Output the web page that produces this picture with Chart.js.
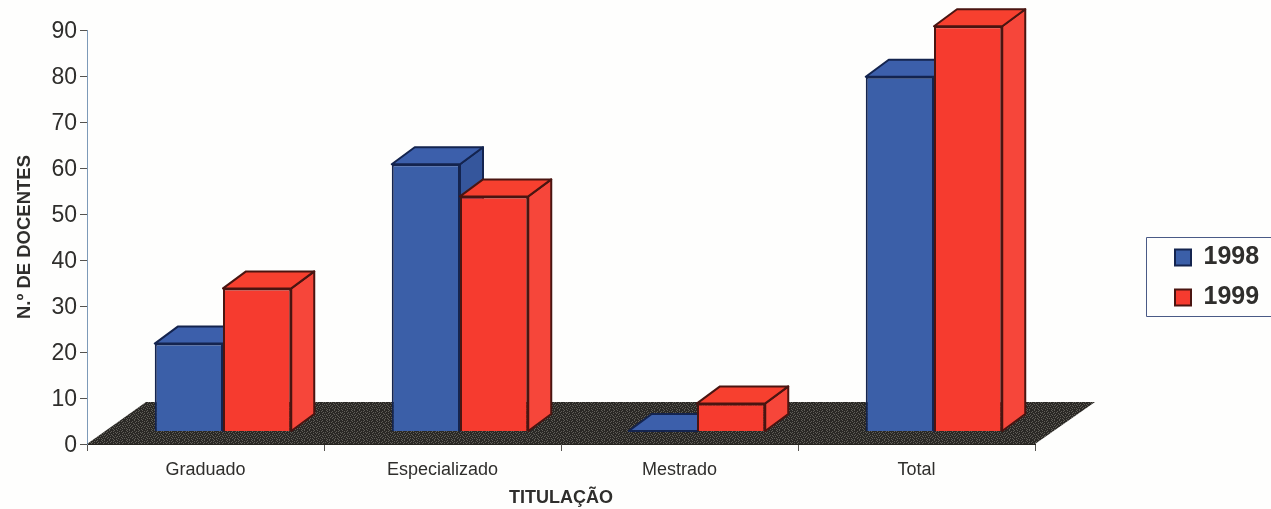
<!DOCTYPE html>
<html lang="pt">
<head>
<meta charset="utf-8">
<title>Docentes por titulação</title>
<script src="https://cdn.jsdelivr.net/npm/chart.js@4"></script>
<style>html,body{margin:0;padding:0;background:#fefefd;overflow:hidden}canvas{display:block}</style>
</head>
<body>
<canvas id="c" width="1271" height="509"></canvas>
<script>
const categories = ['Graduado', 'Especializado', 'Mestrado', 'Total'];
const values1998 = [19, 58, 0, 77];
const values1999 = [31, 51, 6, 88];
const seriesNames = ['1998', '1999'];
const xTitle = 'TITULAÇÃO';
const yTitle = 'N.º DE DOCENTES';

const FONT = '"Liberation Sans", Arial, sans-serif';
const INK = '#2f2e2c';
const LEGEND_FONT = 25;
const LEGEND_PAD = 15;
const LEGEND_BOX = 16;

// Oblique depth of the pseudo-3D view, in pixels
const DEPTH_X = 23, DEPTH_Y = 17;
const FLOOR_X = 60, FLOOR_Y = 42;
const BAR_SHIFT_X = 17.5, BAR_SHIFT_Y = 13;

const faces = [
  { top: '#3c5fab', side: '#35569c', edge: '#14244f' },
  { top: '#f7402f', side: '#f6463a', edge: '#4a1511' }
];

function floorPattern(ctx) {
  const rows = [
    '0100100001000010010000100',
    '0010000100010100000101000',
    '1000101000100001010000010',
    '0001000010000100100100100',
    '0100010001010000001000001',
    '0010100100001001000010100',
    '1000001000100100010100010',
    '0001010010000010100001000',
    '0100000100101000001000101',
    '0010100001000100100010000'
  ];
  const p = document.createElement('canvas');
  p.width = rows[0].length; p.height = rows.length;
  const g = p.getContext('2d');
  g.fillStyle = '#2a2825';
  g.fillRect(0, 0, p.width, p.height);
  g.fillStyle = '#5f5d57';
  rows.forEach((r, y) => [...r].forEach((b, x) => { if (b === '1') g.fillRect(x, y, 1, 1); }));
  return ctx.createPattern(p, 'repeat');
}

function poly(ctx, pts, fill, stroke) {
  ctx.beginPath();
  pts.forEach((p, i) => i ? ctx.lineTo(p[0], p[1]) : ctx.moveTo(p[0], p[1]));
  ctx.closePath();
  ctx.fillStyle = fill;
  ctx.fill();
  ctx.lineWidth = 2;
  ctx.lineJoin = 'round';
  ctx.strokeStyle = stroke;
  ctx.stroke();
}

const view3d = {
  id: 'view3d',
  beforeDraw(chart) {
    const c = chart.ctx;
    c.save();
    c.fillStyle = '#fefefd';
    c.fillRect(0, 0, chart.width, chart.height);
    c.restore();
  },
  afterLayout(chart) {
    // place the legend in its framed box at the right of the picture
    const l = chart.legend, w = l.right - l.left, h = l.bottom - l.top;
    l.left = 1160; l.right = 1160 + w;
    l.top = 230; l.bottom = 230 + h;
  },
  beforeDatasetsDraw(chart) {
    const c = chart.ctx, a = chart.chartArea;
    c.save();
    c.beginPath();
    c.moveTo(a.left, a.bottom);
    c.lineTo(a.right, a.bottom);
    c.lineTo(a.right + FLOOR_X, a.bottom - FLOOR_Y);
    c.lineTo(a.left + FLOOR_X - 1, a.bottom - FLOOR_Y);
    c.closePath();
    c.fillStyle = floorPattern(c);
    c.fill();
    c.restore();
  },
  // the library paints the last dataset first; the 1999 bars must stand in front
  beforeDatasetDraw() {
    return false;
  },
  afterDatasetsDraw(chart) {
    const c = chart.ctx;
    c.save();
    c.translate(BAR_SHIFT_X, 0);
    [0, 1].forEach(index => {
      const f = faces[index], meta = chart.getDatasetMeta(index);
      meta.data.forEach(bar => {
        const p = bar.getProps(['x', 'y', 'base', 'width'], true);
        const l = p.x - p.width / 2, r = p.x + p.width / 2;
        poly(c, [[r, p.y], [r + DEPTH_X, p.y - DEPTH_Y], [r + DEPTH_X, p.base - DEPTH_Y], [r, p.base]], f.side, f.edge);
        poly(c, [[l, p.y], [l + DEPTH_X, p.y - DEPTH_Y], [r + DEPTH_X, p.y - DEPTH_Y], [r, p.y]], f.top, f.edge);
        bar.draw(c);
      });
    });
    c.restore();
  },
  afterDraw(chart) {
    const c = chart.ctx;
    c.save();
    c.strokeStyle = '#4a5a86';
    c.lineWidth = 1;
    c.beginPath();
    c.moveTo(1272, 237.5);
    c.lineTo(1146.5, 237.5);
    c.lineTo(1146.5, 316.5);
    c.lineTo(1272, 316.5);
    c.stroke();
    c.restore();
  }
};

// width of the legend, so that the plot's right edge stays fixed
const measure = document.createElement('canvas').getContext('2d');
measure.font = 'bold ' + LEGEND_FONT + 'px ' + FONT;
const legendWidth = 2 * LEGEND_PAD + LEGEND_BOX + LEGEND_FONT / 2 + measure.measureText(seriesNames[0]).width;

new Chart(document.getElementById('c'), {
  type: 'bar',
  data: {
    labels: categories,
    datasets: [
      { label: seriesNames[0], data: values1998, yAxisID: 'yBars', clip: false,
        backgroundColor: '#3b5fa8', borderColor: faces[0].edge, borderWidth: 2 },
      { label: seriesNames[1], data: values1999, yAxisID: 'yBars', clip: false,
        backgroundColor: '#f63b2f', borderColor: faces[1].edge, borderWidth: 2 }
    ]
  },
  options: {
    responsive: false,
    animation: false,
    barPercentage: 1,
    categoryPercentage: 0.576,
    layout: { padding: { top: 30, left: 0, bottom: 0, right: 241 - legendWidth } },
    plugins: {
      tooltip: { enabled: false },
      legend: {
        position: 'right',
        align: 'start',
        labels: {
          boxWidth: LEGEND_BOX,
          boxHeight: LEGEND_BOX,
          padding: LEGEND_PAD,
          color: INK,
          font: { family: FONT, size: LEGEND_FONT, weight: 'bold' }
        }
      }
    },
    scales: {
      x: {
        afterFit(s) { s.height = 65; },
        border: { color: '#26241f', width: 1 },
        grid: { drawOnChartArea: false, color: '#55534f', tickLength: 7 },
        ticks: { color: INK, padding: 8, maxRotation: 0, font: { family: FONT, size: 18 } },
        title: { display: true, text: xTitle, color: INK, padding: { top: 0, bottom: 0 },
                 font: { family: FONT, size: 18, weight: 'bold' } }
      },
      y: {
        min: 0, max: 90,
        afterFit(s) { s.width = 87; },
        border: { color: '#7d9ab8', width: 1 },
        grid: { drawOnChartArea: false, color: '#55534f', tickLength: 7 },
        ticks: { stepSize: 10, color: INK, padding: 3, labelOffset: 2, font: { family: FONT, size: 23 } },
        title: { display: true, text: yTitle, color: INK, padding: { top: 14, bottom: 0 },
                 font: { family: FONT, size: 18.5, weight: 'bold' } }
      },
      // same unit size as y, with its zero on the front edge of the bars
      yBars: {
        display: false,
        min: -BAR_SHIFT_Y / 4.6,
        max: 90 - BAR_SHIFT_Y / 4.6
      }
    }
  },
  plugins: [view3d]
});
</script>
</body>
</html>
